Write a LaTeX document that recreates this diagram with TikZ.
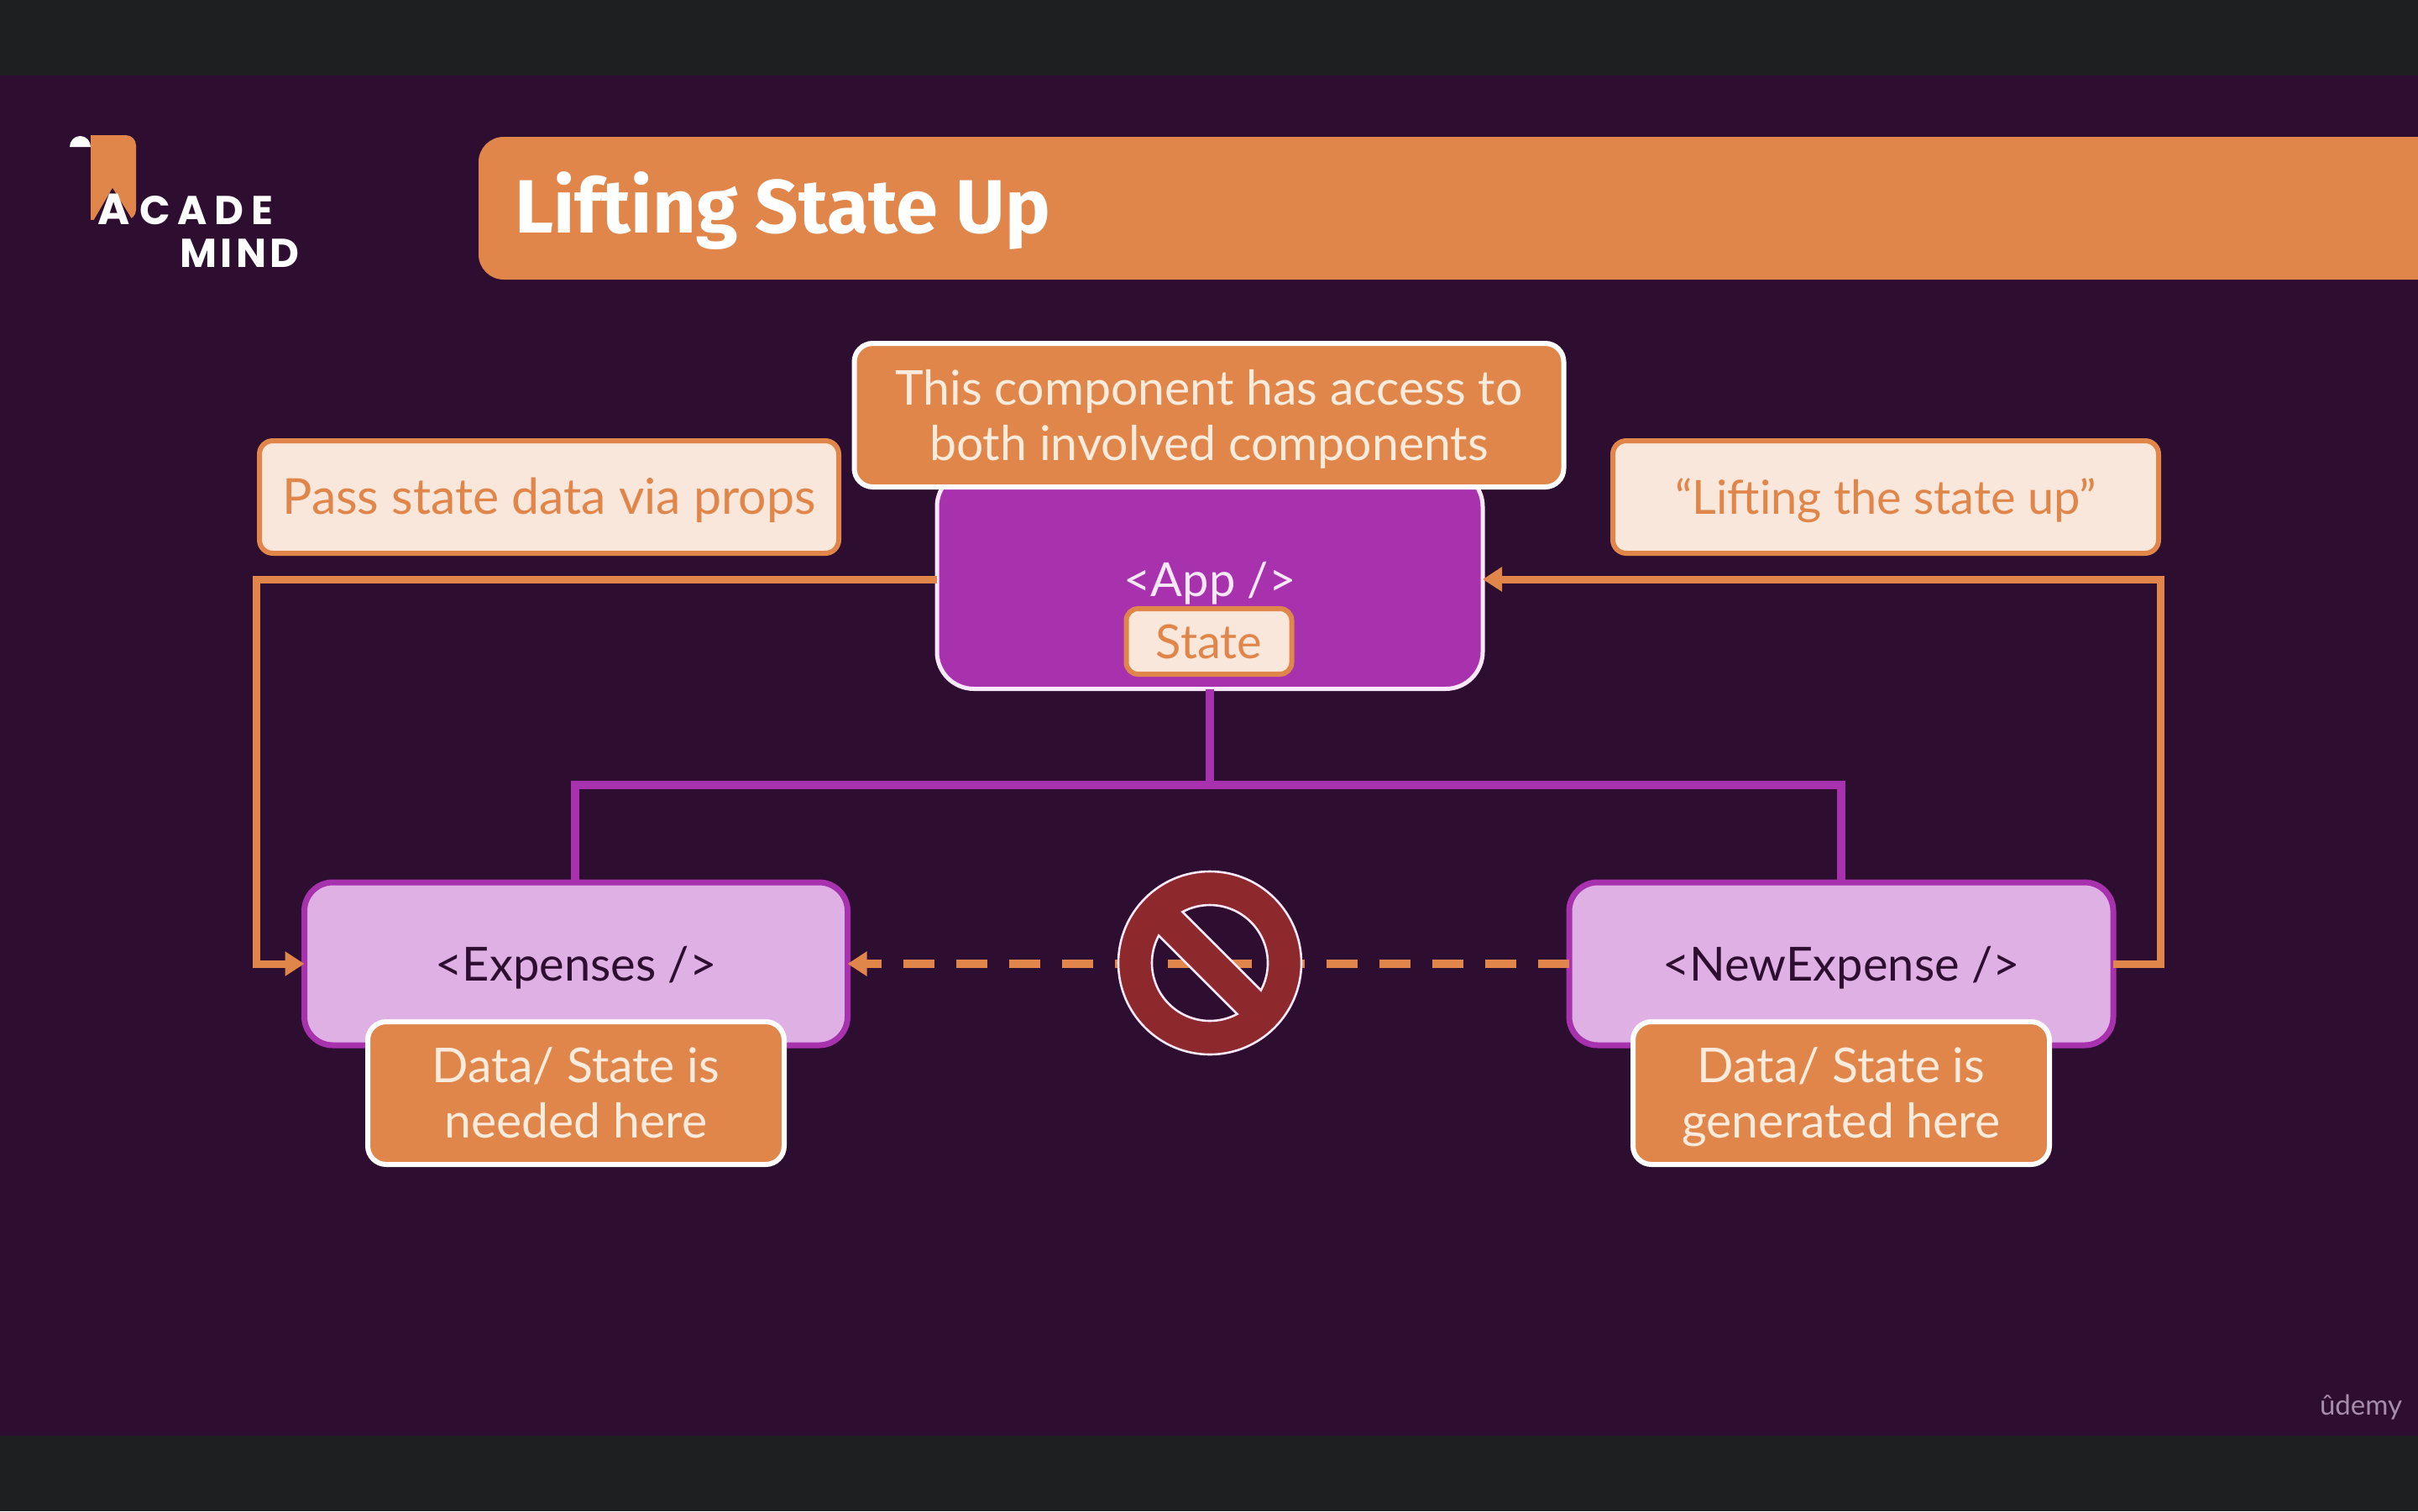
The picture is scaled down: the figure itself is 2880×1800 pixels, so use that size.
\documentclass[tikz,border=0pt]{standalone}
\usepackage{fontspec}
\usetikzlibrary{arrows.meta}
\setmainfont{Lato}
\newfontfamily\titlefont{Fira Sans}[UprightFont=* Bold]
\newfontfamily\logofont{Poppins}[UprightFont=* Bold]
\newfontfamily\udemyfont{Lato}
\newcommand\tstrut{\rule[-6.2pt]{0pt}{33pt}}
\definecolor{bgpurple}{HTML}{2E0E30}
\definecolor{barblack}{HTML}{1E1F20}
\definecolor{accent}{HTML}{E0864A}
\definecolor{cream}{HTML}{F8E7DA}
\definecolor{creamtext}{HTML}{FBEBDD}
\definecolor{appfill}{HTML}{A832AE}
\definecolor{childfill}{HTML}{DEB0E3}
\definecolor{appborder}{HTML}{F8E8FA}
\definecolor{signred}{HTML}{8D282C}
\definecolor{udemygrey}{HTML}{A68DAB}
\tikzset{
  x=0.5pt,y=-0.5pt,
  basebox/.style={rectangle,outer sep=0pt,inner sep=0pt,align=center,line width=3pt,anchor=center},
  orangebox/.style={basebox,fill=accent,draw=white,text=creamtext,rounded corners=11pt,
     font=\fontsize{28.6}{33}\selectfont},
  notebox/.style={basebox,fill=cream,draw=accent,text=accent,rounded corners=8pt,
     font=\fontsize{28}{33}\selectfont},
  appbox/.style={basebox,fill=appfill,draw=appborder,line width=2.5pt,rounded corners=22pt},
  childbox/.style={basebox,fill=childfill,draw=appfill,text=bgpurple,line width=3.5pt,rounded corners=17pt,
     font=\fontsize{28}{33}\selectfont},
  purpleline/.style={draw=appfill,line width=5pt,line join=miter},
  orangeline/.style={draw=accent,line width=4.5pt,line join=miter},
  orangetip/.style={-{Triangle[length=11.5pt,width=14pt]}},
}
\begin{document}
\begin{tikzpicture}
\useasboundingbox (0,0) rectangle (2880,1800);
\clip (0,0) rectangle (2880,1800);
\fill[barblack] (0,0) rectangle (2880,1800);
\fill[bgpurple] (0,90) rectangle (2880,1710);
% header
\fill[accent,rounded corners=15pt] (570,163) rectangle (2960,333);
\node[anchor=base west,inner sep=0pt,text=white,font=\titlefont\fontsize{45}{50}\selectfont] (title) at (613,277) {Lifting State Up};
% logo
\fill[accent,rounded corners=6pt] (108,161) -- (162,161) -- (162,262) -- (108,262) -- cycle;
\fill[accent] (108,161) rectangle (130,262);
\fill[white] (83,175) arc[start angle=180,end angle=360,x radius=12.5,y radius=13] -- cycle;
\fill[bgpurple] (106,272) -- (134,224) -- (164,272) -- cycle;
\node[anchor=base,inner sep=0pt,text=white,font=\logofont\fontsize{26}{27}\selectfont] (logoa) at (136,267) {A};
\node[anchor=base west,inner sep=0pt,text=white,font=\logofont\fontsize{24}{25}\selectfont\addfontfeature{LetterSpace=18}] (logob) at (166,267) {CADE};
\node[anchor=base west,inner sep=0pt,text=white,font=\logofont\fontsize{24}{25}\selectfont\addfontfeature{LetterSpace=9}] (logoc) at (214,318) {MIND};
% boxes
\node[appbox,minimum width=325pt,minimum height=130.5pt] (app) at (1441,690) {};
\node[orangebox,minimum width=422.5pt,minimum height=85.5pt] (access) at (1440,494.5) {\tstrut This component has access to\\\tstrut both involved components};
\node[text=appborder,inner sep=0pt,font=\fontsize{28}{33}\selectfont] (applabel) at (1441,690) {\tstrut <App />};
\node[notebox,line width=3pt,minimum width=98.5pt,minimum height=39pt,rounded corners=7pt] (state) at (1440,764) {\tstrut State};
\node[notebox,minimum width=345pt,minimum height=67pt,font=\fontsize{29.5}{33}\selectfont] (pass) at (654,592) {\tstrut Pass state data via props};
\node[notebox,minimum width=325pt,minimum height=67pt] (lift) at (2246,592) {\tstrut “Lifting the state up”};
\coordinate (ltop) at (305,690);
\coordinate (lbot) at (305,1148);
\coordinate (rtop) at (2573,690);
\coordinate (rbot) at (2573,1148);
\coordinate (joint) at (1441,935);
\coordinate (jleft) at (685,935);
\coordinate (jright) at (2193,935);
\node[childbox,minimum width=323.5pt,minimum height=97pt] (expenses) at (686,1148) {\tstrut <Expenses />};
\node[childbox,minimum width=324pt,minimum height=97pt] (newexp) at (2193,1148) {\tstrut <NewExpense />};
\node[orangebox,minimum width=248pt,minimum height=85pt] (needed) at (686,1302) {\tstrut Data/ State is\\\tstrut needed here};
\node[orangebox,minimum width=248pt,minimum height=85pt] (generated) at (2193,1302) {\tstrut Data/ State is\\\tstrut generated here};
% connectors
\draw[purpleline] (app.south) -- (joint);
\draw[purpleline] (expenses.north -| jleft) -- (jleft) -- (jright) -- (newexp.north -| jright);
\draw[orangeline,orangetip] (app.west) -- (ltop) -- (lbot) -- (expenses.west);
\draw[orangeline,orangetip] (newexp.east) -- (rbot) -- (rtop) -- (app.east);
\draw[orangeline,orangetip,line width=5pt,dash pattern=on 18.5pt off 13pt] (newexp.west) -- (expenses.east);
% prohibition sign
\coordinate (signc) at (1441,1147);
\begin{scope}[shift={(signc)},y=0.5pt]
\path[fill=signred,draw=appborder,line width=1.3pt,even odd rule]
  (0,0) circle[radius=109]
  (-28.15:69) arc[start angle=-28.15,end angle=118.15,radius=69] -- cycle
  (151.85:69) arc[start angle=151.85,end angle=298.15,radius=69] -- cycle;
\end{scope}
\node[text=udemygrey,inner sep=0pt,anchor=base,font=\udemyfont\fontsize{16.5}{16}\selectfont] (udemy) at (2812,1685) {ûdemy};
\end{tikzpicture}
\end{document}
